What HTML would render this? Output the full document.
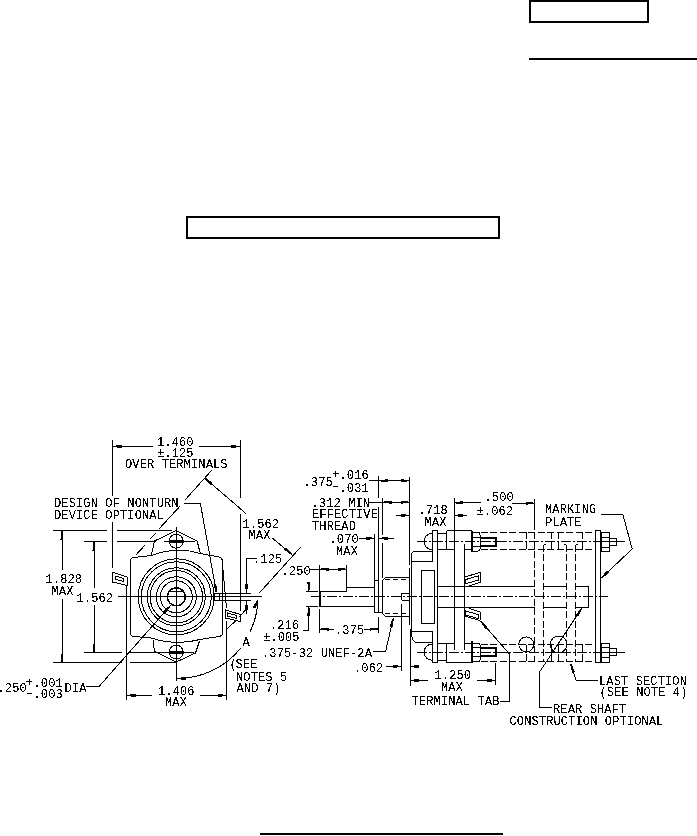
<!DOCTYPE html>
<html><head><meta charset="utf-8"><style>
html,body{margin:0;padding:0;background:#fff;}
body{width:697px;height:836px;position:relative;overflow:hidden;}
svg{position:absolute;left:0;top:0;}
text{font-family:"Liberation Mono",monospace;fill:#000;letter-spacing:0.13px;}
line,polyline,polygon,path,circle{shape-rendering:crispEdges;}
</style></head><body>
<svg width="697" height="836" viewBox="0 0 697 836" stroke="#000" fill="none">
<rect x="530" y="1" width="118" height="21" stroke-width="2"/>
<rect x="529" y="58" width="168" height="2" fill="#000" stroke="none"/>
<rect x="187" y="217" width="312" height="21" stroke-width="2"/>
<rect x="260" y="833" width="243" height="2" fill="#000" stroke="none"/>
<defs><filter id="thr" x="0" y="0" width="100%" height="100%" filterUnits="userSpaceOnUse"><feComponentTransfer><feFuncA type="discrete" tableValues="0 0 0 0 0 0 0 0 0 1 1 1 1 1 1 1 1 1 1 1"/></feComponentTransfer></filter></defs>
<g stroke="#000" fill="none">
<line x1="112.5" y1="440" x2="112.5" y2="496" stroke-width="1"/>
<line x1="112.5" y1="522" x2="112.5" y2="567.5" stroke-width="1"/>
<line x1="240.5" y1="440" x2="240.5" y2="498" stroke-width="1"/>
<line x1="240.5" y1="513.5" x2="240.5" y2="611" stroke-width="1"/>
<line x1="112.5" y1="446.5" x2="153" y2="446.5" stroke-width="1"/>
<line x1="199" y1="446.5" x2="240" y2="446.5" stroke-width="1"/>
<polygon points="112.50,445.90 121.50,445.00 121.50,448.00 112.50,447.10" fill="#000" stroke="none"/>
<polygon points="240.00,447.10 231.00,448.00 231.00,445.00 240.00,445.90" fill="#000" stroke="none"/>
<polyline points="184.2,503.5 200.4,503.5 216.4,592.5" fill="none" stroke-width="1"/>
<polygon points="215.81,592.60 213.40,583.88 216.35,583.38 216.99,592.40" fill="#000" stroke="none"/>
<line x1="53" y1="530.5" x2="107" y2="530.5" stroke-width="1"/>
<line x1="117" y1="530.5" x2="171.5" y2="530.5" stroke-width="1"/>
<line x1="53" y1="662.5" x2="122" y2="662.5" stroke-width="1"/>
<line x1="129.7" y1="662.5" x2="176.8" y2="662.5" stroke-width="1"/>
<line x1="62.5" y1="530.5" x2="62.5" y2="569.5" stroke-width="1"/>
<line x1="62.5" y1="599" x2="62.5" y2="662.5" stroke-width="1"/>
<polygon points="62.60,530.50 63.50,539.50 60.50,539.50 61.40,530.50" fill="#000" stroke="none"/>
<polygon points="61.40,662.50 60.50,653.50 63.50,653.50 62.60,662.50" fill="#000" stroke="none"/>
<line x1="84" y1="541.5" x2="107" y2="541.5" stroke-width="1"/>
<line x1="117" y1="541.5" x2="155.8" y2="541.5" stroke-width="1"/>
<line x1="164.2" y1="541.5" x2="194.6" y2="541.5" stroke-width="1"/>
<line x1="84" y1="652.5" x2="122" y2="652.5" stroke-width="1"/>
<line x1="129.7" y1="652.5" x2="194.3" y2="652.5" stroke-width="1"/>
<line x1="94.5" y1="541.5" x2="94.5" y2="587.5" stroke-width="1"/>
<line x1="94.5" y1="605" x2="94.5" y2="652.5" stroke-width="1"/>
<polygon points="94.60,541.50 95.50,550.50 92.50,550.50 93.40,541.50" fill="#000" stroke="none"/>
<polygon points="93.40,652.50 92.50,643.50 95.50,643.50 94.60,652.50" fill="#000" stroke="none"/>
<line x1="117.5" y1="596.5" x2="262" y2="596.5" stroke-width="1"/>
<line x1="176.5" y1="527" x2="176.5" y2="681" stroke-width="1"/>
<polyline points="151.3,555.5 154.5,541 176.2,530.6 197.1,541 200.3,553.5" fill="none" stroke-width="1"/>
<circle cx="176.2" cy="541.2" r="7" fill="none" stroke-width="1"/>
<line x1="169" y1="541.5" x2="183.5" y2="541.5" stroke-width="3"/>
<polyline points="153,640 154.5,651.3 176.2,662 195.5,653 199.5,641" fill="none" stroke-width="1"/>
<circle cx="176.2" cy="652.1" r="7" fill="none" stroke-width="1"/>
<line x1="169" y1="652.5" x2="183.5" y2="652.5" stroke-width="3"/>
<path d="M130.5,633 L130.5,561 Q130.5,558 134,557.5 L151.3,555.5 Q176.2,546 200.3,553.5 L219,557 Q222.5,558 222.5,562 L222.5,633 Q222.5,636 219,636.5 L200,639.5 Q176.2,646 151,638 L134,636.5 Q130.5,636 130.5,633 Z" fill="none" stroke-width="1"/>
<circle cx="176.3" cy="596.8" r="38" fill="none" stroke-width="1"/>
<circle cx="176.3" cy="596.8" r="35" fill="none" stroke-width="1"/>
<circle cx="176.3" cy="596.8" r="29" fill="none" stroke-width="1"/>
<circle cx="176.3" cy="596.8" r="26.2" fill="none" stroke-width="1"/>
<circle cx="176.3" cy="596.8" r="20" fill="none" stroke-width="1"/>
<circle cx="176.3" cy="596.8" r="16" fill="none" stroke-width="1"/>
<circle cx="176.3" cy="596.8" r="9" fill="none" stroke-width="1.6"/>
<line x1="169.5" y1="591.5" x2="183.5" y2="591.5" stroke-width="1"/>
<line x1="170.5" y1="605.5" x2="118" y2="665" stroke-width="1"/>
<polygon points="170.95,605.90 165.67,613.24 163.42,611.26 170.05,605.10" fill="#000" stroke="none"/>
<polyline points="118,665 99,686.5 85.6,686.5" fill="none" stroke-width="1"/>
<line x1="27" y1="693.5" x2="32" y2="693.5" stroke-width="1"/>
<line x1="126.5" y1="585" x2="126.5" y2="700" stroke-width="1"/>
<line x1="226.5" y1="621" x2="226.5" y2="700" stroke-width="1"/>
<line x1="126.5" y1="695.5" x2="152" y2="695.5" stroke-width="1"/>
<line x1="199.5" y1="695.5" x2="226.5" y2="695.5" stroke-width="1"/>
<polygon points="126.50,694.90 135.50,694.00 135.50,697.00 126.50,696.10" fill="#000" stroke="none"/>
<polygon points="226.50,696.10 217.50,697.00 217.50,694.00 226.50,694.90" fill="#000" stroke="none"/>
<polygon points="112.5,572.2 127.5,577.2 127.5,585.5 112.5,582" fill="none" stroke-width="1"/>
<polygon points="115.5,576.2 123.5,578.3 123.5,581.5 115.5,579.4" fill="none" stroke-width="1"/>
<polygon points="225.5,610 240.5,614.5 240.5,621.5 225.5,618" fill="none" stroke-width="1"/>
<polygon points="227.5,613 236.5,615.5 236.5,618.5 227.5,616" fill="none" stroke-width="1"/>
<polygon points="213.5,593.5 219.5,593.5 219.5,600.5 213.5,600.5" fill="none" stroke-width="1"/>
<line x1="219.2" y1="593.5" x2="250.6" y2="593.5" stroke-width="1"/>
<line x1="219.2" y1="600.5" x2="250.6" y2="600.5" stroke-width="1"/>
<line x1="223" y1="570" x2="226.5" y2="608" stroke-width="1"/>
<line x1="211.6" y1="470.4" x2="184.9" y2="500.1" stroke-width="1"/>
<line x1="179.7" y1="506.5" x2="159" y2="528.9" stroke-width="1"/>
<line x1="155.8" y1="533" x2="150" y2="538.8" stroke-width="1"/>
<line x1="144.9" y1="545.3" x2="135.8" y2="555" stroke-width="1"/>
<line x1="300.7" y1="547.1" x2="259.4" y2="592.9" stroke-width="1"/>
<line x1="245.8" y1="609.7" x2="238.7" y2="617.5" stroke-width="1"/>
<line x1="236.8" y1="620" x2="225.8" y2="629.7" stroke-width="1"/>
<line x1="204.5" y1="477.8" x2="246" y2="513.6" stroke-width="1"/>
<polygon points="204.89,477.35 212.29,482.54 210.33,484.81 204.11,478.25" fill="#000" stroke="none"/>
<line x1="271.8" y1="537.7" x2="292" y2="554.5" stroke-width="1"/>
<polygon points="291.61,554.96 284.14,549.86 286.07,547.56 292.39,554.04" fill="#000" stroke="none"/>
<polyline points="257.4,558.5 246.5,558.5 246.5,593.2" fill="none" stroke-width="1"/>
<polygon points="245.90,593.20 245.00,584.20 248.00,584.20 247.10,593.20" fill="#000" stroke="none"/>
<polygon points="247.10,600.60 248.00,609.60 245.00,609.60 245.90,600.60" fill="#000" stroke="none"/>
<line x1="246.5" y1="600.6" x2="246.5" y2="614.3" stroke-width="1"/>
<path d="M258,600 A81.7,81.7 0 0 1 250,632" fill="none" stroke-width="1"/>
<path d="M240.5,648.5 A81.7,81.7 0 0 1 177,678.5" fill="none" stroke-width="1"/>
<polygon points="258.54,600.27 255.32,608.72 252.63,607.38 257.46,599.73" fill="#000" stroke="none"/>
<polygon points="177.00,677.90 186.00,677.00 186.00,680.00 177.00,679.10" fill="#000" stroke="none"/>
<line x1="369" y1="480.5" x2="409.5" y2="480.5" stroke-width="1"/>
<polygon points="378.70,480.10 387.70,479.20 387.70,482.20 378.70,481.30" fill="#000" stroke="none"/>
<polygon points="409.50,481.30 400.50,482.20 400.50,479.20 409.50,480.10" fill="#000" stroke="none"/>
<line x1="378.5" y1="475.5" x2="378.5" y2="498.4" stroke-width="1"/>
<line x1="333" y1="486.5" x2="338" y2="486.5" stroke-width="1"/>
<line x1="369" y1="502.5" x2="409.5" y2="502.5" stroke-width="1"/>
<polygon points="382.50,501.70 391.50,500.80 391.50,503.80 382.50,502.90" fill="#000" stroke="none"/>
<polygon points="409.50,502.90 400.50,503.80 400.50,500.80 409.50,501.70" fill="#000" stroke="none"/>
<line x1="382.5" y1="498" x2="382.5" y2="534.6" stroke-width="1"/>
<line x1="382.5" y1="542.8" x2="382.5" y2="577.5" stroke-width="1"/>
<line x1="396" y1="515.5" x2="409.5" y2="515.5" stroke-width="1"/>
<polygon points="409.50,516.10 400.50,517.00 400.50,514.00 409.50,514.90" fill="#000" stroke="none"/>
<line x1="454" y1="515.5" x2="467" y2="515.5" stroke-width="1"/>
<polygon points="454.00,514.90 463.00,514.00 463.00,517.00 454.00,516.10" fill="#000" stroke="none"/>
<line x1="409.5" y1="477" x2="409.5" y2="565" stroke-width="1"/>
<line x1="454" y1="502.5" x2="481" y2="502.5" stroke-width="1"/>
<polygon points="454.00,502.10 463.00,501.20 463.00,504.20 454.00,503.30" fill="#000" stroke="none"/>
<line x1="512" y1="503.5" x2="534.5" y2="503.5" stroke-width="1"/>
<polygon points="534.50,503.90 525.50,504.80 525.50,501.80 534.50,502.70" fill="#000" stroke="none"/>
<line x1="534.5" y1="498.7" x2="534.5" y2="530" stroke-width="1"/>
<line x1="359" y1="538.5" x2="374.6" y2="538.5" stroke-width="1"/>
<polygon points="374.60,539.00 365.60,539.90 365.60,536.90 374.60,537.80" fill="#000" stroke="none"/>
<line x1="378.6" y1="538.5" x2="393.5" y2="538.5" stroke-width="1"/>
<polygon points="378.60,537.80 387.60,536.90 387.60,539.90 378.60,539.00" fill="#000" stroke="none"/>
<line x1="374.5" y1="534.3" x2="374.5" y2="612.8" stroke-width="1"/>
<line x1="378.5" y1="507" x2="378.5" y2="612.8" stroke-width="1"/>
<line x1="374.6" y1="612.5" x2="381.7" y2="612.5" stroke-width="1"/>
<line x1="309.8" y1="569.5" x2="346.8" y2="569.5" stroke-width="1"/>
<polygon points="319.50,568.70 328.50,567.80 328.50,570.80 319.50,569.90" fill="#000" stroke="none"/>
<polygon points="346.80,569.90 337.80,570.80 337.80,567.80 346.80,568.70" fill="#000" stroke="none"/>
<line x1="319.5" y1="565" x2="319.5" y2="591" stroke-width="1"/>
<line x1="346.5" y1="565" x2="346.5" y2="587" stroke-width="1"/>
<line x1="320" y1="591.3" x2="320" y2="606.5" stroke-width="2.5"/>
<polyline points="319.6,591.5 346.5,591.5 346.5,587.5 374.4,587.5" fill="none" stroke-width="1"/>
<line x1="319.6" y1="606.5" x2="374.4" y2="606.5" stroke-width="1"/>
<line x1="310.7" y1="596.5" x2="608" y2="596.5" stroke-width="1" stroke-dasharray="10 2 2 2"/>
<line x1="305.5" y1="591.5" x2="317.5" y2="591.5" stroke-width="1"/>
<line x1="305.5" y1="606.5" x2="317.5" y2="606.5" stroke-width="1"/>
<line x1="308.5" y1="582" x2="308.5" y2="591.3" stroke-width="1"/>
<polygon points="308.20,591.30 307.30,582.30 310.30,582.30 309.40,591.30" fill="#000" stroke="none"/>
<polyline points="308.5,606.5 308.5,630.5 303.3,630.5" fill="none" stroke-width="1"/>
<polygon points="309.40,606.50 310.30,615.50 307.30,615.50 308.20,606.50" fill="#000" stroke="none"/>
<line x1="319.5" y1="608.5" x2="319.5" y2="633" stroke-width="1"/>
<line x1="378.5" y1="616.7" x2="378.5" y2="633" stroke-width="1"/>
<line x1="319.6" y1="629.5" x2="334" y2="629.5" stroke-width="1"/>
<line x1="364" y1="629.5" x2="378.5" y2="629.5" stroke-width="1"/>
<polygon points="319.60,628.60 328.60,627.70 328.60,630.70 319.60,629.80" fill="#000" stroke="none"/>
<polygon points="378.50,629.80 369.50,630.70 369.50,627.70 378.50,628.60" fill="#000" stroke="none"/>
<polyline points="372.6,651.5 385.6,651.5 393.3,618" fill="none" stroke-width="1"/>
<polygon points="393.88,618.13 392.75,627.11 389.83,626.44 392.72,617.87" fill="#000" stroke="none"/>
<line x1="385.6" y1="666.5" x2="401.5" y2="666.5" stroke-width="1"/>
<polygon points="401.50,667.10 392.50,668.00 392.50,665.00 401.50,665.90" fill="#000" stroke="none"/>
<line x1="410" y1="666.5" x2="418" y2="666.5" stroke-width="1"/>
<polygon points="410.00,665.90 419.00,665.00 419.00,668.00 410.00,667.10" fill="#000" stroke="none"/>
<line x1="401.5" y1="604" x2="401.5" y2="671" stroke-width="1"/>
<line x1="374.4" y1="580.5" x2="378.6" y2="580.5" stroke-width="1"/>
<polyline points="382.5,613.7 382.5,580.3 385.5,577.5 409.6,577.5" fill="none" stroke-width="1"/>
<polyline points="382.6,613.7 385.5,616.5 409.6,616.5" fill="none" stroke-width="1"/>
<line x1="385" y1="579.5" x2="409.6" y2="579.5" stroke-width="1" stroke-dasharray="5 3"/>
<line x1="385" y1="613.5" x2="409.6" y2="613.5" stroke-width="1" stroke-dasharray="5 3"/>
<line x1="382.5" y1="580.3" x2="382.5" y2="613.7" stroke-width="1"/>
<polyline points="401.5,600 401.5,593.5 410,593.5" fill="none" stroke-width="1"/>
<line x1="401.5" y1="600.5" x2="410" y2="600.5" stroke-width="1"/>
<line x1="409.5" y1="568" x2="409.5" y2="625.3" stroke-width="1"/>
<line x1="410.5" y1="629" x2="410.5" y2="686" stroke-width="1"/>
<path d="M411.5,561.5 L411.5,555 Q411.5,551.5 415.3,551.5 L432.5,551.5 L432.5,561.5 L411.5,561.5" fill="none" stroke-width="1"/>
<line x1="411.5" y1="561.5" x2="411.5" y2="631.5" stroke-width="1"/>
<path d="M411.5,631.5 Q411.5,642.5 417,642.5 L432.5,642.5" fill="none" stroke-width="1"/>
<line x1="411.5" y1="631.5" x2="432.5" y2="631.5" stroke-width="1"/>
<polyline points="432.5,560.8 432.5,530.5 437.5,530.5 437.5,662.5 432.5,662.5 432.5,631" fill="none" stroke-width="1"/>
<polygon points="421.5,570.5 434.5,570.5 434.5,623.5 421.5,623.5" fill="none" stroke-width="1"/>
<path d="M432,533.5 A8,8 0 0 0 432,549.5" fill="none" stroke-width="1"/>
<line x1="437.2" y1="533.5" x2="446.6" y2="533.5" stroke-width="1"/>
<line x1="437.2" y1="549.5" x2="446.6" y2="549.5" stroke-width="1"/>
<line x1="446.6" y1="530.5" x2="471.8" y2="530.5" stroke-width="1"/>
<line x1="437.2" y1="549.5" x2="454" y2="549.5" stroke-width="1"/>
<line x1="464" y1="549.5" x2="471.8" y2="549.5" stroke-width="1"/>
<line x1="446.5" y1="530.5" x2="446.5" y2="549.5" stroke-width="1"/>
<line x1="472" y1="530.5" x2="472" y2="552.0" stroke-width="2"/>
<path d="M472.5,532.5 L478,532.5 Q480,532.5 480,534.5 L480,549.0 Q480,551.0 478,551.0 L472.5,551.0" fill="none" stroke-width="1"/>
<line x1="472.5" y1="537.5" x2="480" y2="537.5" stroke-width="1"/>
<line x1="472.5" y1="546.5" x2="480" y2="546.5" stroke-width="1"/>
<polyline points="480,538 496,538 496,546 480,546" fill="none" stroke-width="1.5"/>
<line x1="417" y1="541.5" x2="624.6" y2="541.5" stroke-width="1" stroke-dasharray="10 2 2 2"/>
<path d="M432,644.2 A8,8 0 0 0 432,660.2" fill="none" stroke-width="1"/>
<line x1="437.2" y1="643.5" x2="446.6" y2="643.5" stroke-width="1"/>
<line x1="437.2" y1="660.5" x2="446.6" y2="660.5" stroke-width="1"/>
<line x1="446.6" y1="662.5" x2="471.8" y2="662.5" stroke-width="1"/>
<line x1="437.2" y1="643.5" x2="454" y2="643.5" stroke-width="1"/>
<line x1="464" y1="643.5" x2="471.8" y2="643.5" stroke-width="1"/>
<line x1="446.5" y1="643.2" x2="446.5" y2="662.7" stroke-width="1"/>
<line x1="472" y1="641.2" x2="472" y2="662.7" stroke-width="2"/>
<path d="M472.5,643.2 L478,643.2 Q480,643.2 480,645.2 L480,659.7 Q480,661.7 478,661.7 L472.5,661.7" fill="none" stroke-width="1"/>
<line x1="472.5" y1="647.5" x2="480" y2="647.5" stroke-width="1"/>
<line x1="472.5" y1="656.5" x2="480" y2="656.5" stroke-width="1"/>
<polyline points="480,648 496,648 496,656 480,656" fill="none" stroke-width="1.5"/>
<line x1="417" y1="652.5" x2="624.6" y2="652.5" stroke-width="1" stroke-dasharray="10 2 2 2"/>
<line x1="454.5" y1="498.4" x2="454.5" y2="649.5" stroke-width="1"/>
<line x1="464.5" y1="544.4" x2="464.5" y2="649.5" stroke-width="1"/>
<line x1="437.7" y1="586.5" x2="534.7" y2="586.5" stroke-width="1"/>
<line x1="437.7" y1="607.5" x2="534.7" y2="607.5" stroke-width="1"/>
<line x1="543.7" y1="586.5" x2="566.4" y2="586.5" stroke-width="1"/>
<line x1="543.7" y1="607.5" x2="566.4" y2="607.5" stroke-width="1"/>
<line x1="575.7" y1="586.5" x2="588.8" y2="586.5" stroke-width="1"/>
<line x1="575.7" y1="607.5" x2="588.8" y2="607.5" stroke-width="1"/>
<polyline points="464,577.2 480.5,572.4 480.5,582.2 467.5,586.4" fill="none" stroke-width="1"/>
<polygon points="465.5,579.6 478.5,575.8 478.5,580 465.5,583.8" fill="none" stroke-width="1"/>
<polyline points="467.5,607.6 480.5,612.3 480.5,619.8 479,620.2 464,616" fill="none" stroke-width="1"/>
<polygon points="465.5,611 478.5,614.6 478.5,618.6 465.5,615" fill="none" stroke-width="1"/>
<line x1="480.6" y1="532.5" x2="595.3" y2="532.5" stroke-width="1" stroke-dasharray="7 2.5"/>
<line x1="480.6" y1="549.5" x2="595.3" y2="549.5" stroke-width="1" stroke-dasharray="7 2.5"/>
<line x1="480.6" y1="644.5" x2="595.3" y2="644.5" stroke-width="1" stroke-dasharray="7 2.5"/>
<line x1="480.6" y1="661.5" x2="595.3" y2="661.5" stroke-width="1" stroke-dasharray="7 2.5"/>
<line x1="526.5" y1="532.1" x2="526.5" y2="549.3" stroke-width="1" stroke-dasharray="7 2.5"/>
<line x1="526.5" y1="644.8" x2="526.5" y2="661.2" stroke-width="1" stroke-dasharray="7 2.5"/>
<line x1="551.5" y1="532.1" x2="551.5" y2="549.3" stroke-width="1" stroke-dasharray="7 2.5"/>
<line x1="551.5" y1="644.8" x2="551.5" y2="661.2" stroke-width="1" stroke-dasharray="7 2.5"/>
<line x1="558.5" y1="532.1" x2="558.5" y2="549.3" stroke-width="1" stroke-dasharray="7 2.5"/>
<line x1="558.5" y1="644.8" x2="558.5" y2="661.2" stroke-width="1" stroke-dasharray="7 2.5"/>
<line x1="582.5" y1="532.1" x2="582.5" y2="549.3" stroke-width="1" stroke-dasharray="7 2.5"/>
<line x1="582.5" y1="644.8" x2="582.5" y2="661.2" stroke-width="1" stroke-dasharray="7 2.5"/>
<line x1="543.5" y1="544.6" x2="543.5" y2="662" stroke-width="1" stroke-dasharray="7 2.5"/>
<line x1="566.5" y1="544.6" x2="566.5" y2="662" stroke-width="1" stroke-dasharray="7 2.5"/>
<line x1="575.5" y1="544.6" x2="575.5" y2="662" stroke-width="1" stroke-dasharray="7 2.5"/>
<line x1="534.5" y1="532.1" x2="534.5" y2="662" stroke-width="1" stroke-dasharray="7 2.5"/>
<line x1="543.7" y1="544.5" x2="546" y2="544.5" stroke-width="1"/>
<line x1="566.4" y1="544.5" x2="564" y2="544.5" stroke-width="1"/>
<line x1="575.7" y1="544.5" x2="578" y2="544.5" stroke-width="1"/>
<polyline points="576,586.5 588.5,586.5 588.5,607.5 576,607.5" fill="none" stroke-width="1"/>
<circle cx="526.3" cy="644.4" r="7.5" fill="none" stroke-width="1"/>
<circle cx="558.6" cy="644.4" r="8.4" fill="none" stroke-width="1"/>
<polygon points="595.5,530.5 600.5,530.5 600.5,662.5 595.5,662.5" fill="none" stroke-width="1"/>
<polyline points="600.5,532.5 609.5,532.5 609.5,551.5 600.5,551.5" fill="none" stroke-width="1"/>
<line x1="601.5" y1="532.5" x2="601.5" y2="551.5" stroke-width="1"/>
<line x1="600.5" y1="537.5" x2="609.4" y2="537.5" stroke-width="1"/>
<line x1="600.5" y1="547.5" x2="609.4" y2="547.5" stroke-width="1"/>
<polyline points="609.4,538.5 616.5,538.5 616.5,545.5 609.4,545.5" fill="none" stroke-width="1"/>
<line x1="616.5" y1="538.0" x2="616.5" y2="545.2" stroke-width="1"/>
<line x1="600.5" y1="541.5" x2="624.7" y2="541.5" stroke-width="1"/>
<polyline points="600.5,643.5 609.5,643.5 609.5,662.5 600.5,662.5" fill="none" stroke-width="1"/>
<line x1="601.5" y1="643.2" x2="601.5" y2="662.2" stroke-width="1"/>
<line x1="600.5" y1="647.5" x2="609.4" y2="647.5" stroke-width="1"/>
<line x1="600.5" y1="657.5" x2="609.4" y2="657.5" stroke-width="1"/>
<polyline points="609.4,648.5 616.5,648.5 616.5,655.5 609.4,655.5" fill="none" stroke-width="1"/>
<line x1="616.5" y1="648.7" x2="616.5" y2="655.9000000000001" stroke-width="1"/>
<line x1="600.5" y1="652.5" x2="624.7" y2="652.5" stroke-width="1"/>
<polyline points="601.4,514.5 622.9,514.5 632.2,549 601.4,578" fill="none" stroke-width="1"/>
<polygon points="600.99,577.56 606.92,570.74 608.98,572.92 601.81,578.44" fill="#000" stroke="none"/>
<line x1="410.4" y1="680.5" x2="427.5" y2="680.5" stroke-width="1"/>
<polygon points="410.40,679.90 419.40,679.00 419.40,682.00 410.40,681.10" fill="#000" stroke="none"/>
<line x1="476.5" y1="680.5" x2="495.6" y2="680.5" stroke-width="1"/>
<polygon points="495.60,681.10 486.60,682.00 486.60,679.00 495.60,679.90" fill="#000" stroke="none"/>
<line x1="495.5" y1="663" x2="495.5" y2="685" stroke-width="1"/>
<polyline points="499.8,701.5 509.5,701.5 509.5,654 480.5,621" fill="none" stroke-width="1"/>
<polygon points="480.95,620.60 487.57,626.77 485.31,628.75 480.05,621.40" fill="#000" stroke="none"/>
<polyline points="597.5,680.5 576.3,680.5 570.7,664" fill="none" stroke-width="1"/>
<polygon points="571.27,663.80 575.09,672.00 572.26,672.99 570.13,664.20" fill="#000" stroke="none"/>
<polyline points="552.3,707.5 539.5,707.5 539.5,672 582,608" fill="none" stroke-width="1"/>
<polygon points="582.50,608.33 578.28,616.33 575.78,614.67 581.50,607.67" fill="#000" stroke="none"/>
</g>
<g filter="url(#thr)">
<text x="157" y="445.5" font-size="12" stroke="none">1.460</text>
<text x="157" y="456.5" font-size="12" stroke="none">±.125</text>
<text x="125" y="467.5" font-size="12" stroke="none">OVER TERMINALS</text>
<text x="54" y="507.0" font-size="12" stroke="none">DESIGN OF NONTURN</text>
<text x="54" y="519.0" font-size="12" stroke="none">DEVICE OPTIONAL</text>
<text x="45.5" y="582.5" font-size="12" stroke="none">1.828</text>
<text x="51.5" y="595.0" font-size="12" stroke="none">MAX</text>
<text x="76.5" y="601.5" font-size="12" stroke="none">1.562</text>
<text x="-2.5" y="692.0" font-size="12" stroke="none">.250</text>
<text x="25.7" y="685.5" font-size="12" stroke="none">+</text>
<text x="33.5" y="686.5" font-size="12" stroke="none">.001</text>
<text x="33.5" y="698.0" font-size="12" stroke="none">.003</text>
<text x="64.5" y="692.0" font-size="12" stroke="none">DIA</text>
<text x="158" y="694.5" font-size="12" stroke="none">1.406</text>
<text x="165" y="706.0" font-size="12" stroke="none">MAX</text>
<text x="242.5" y="527.5" font-size="12" stroke="none">1.562</text>
<text x="248.5" y="539.0" font-size="12" stroke="none">MAX</text>
<text x="253" y="563.0" font-size="12" stroke="none">.125</text>
<text x="242.5" y="646.1" font-size="12" stroke="none">A</text>
<text x="229.5" y="668.0" font-size="12" stroke="none">(</text>
<text x="235.5" y="668.0" font-size="12" stroke="none">SEE</text>
<text x="236" y="680.5" font-size="12" stroke="none">NOTES 5</text>
<text x="236.5" y="692.1" font-size="12" stroke="none">AND 7)</text>
<text x="303.5" y="485.5" font-size="12" stroke="none">.375</text>
<text x="332" y="478.0" font-size="12" stroke="none">+</text>
<text x="339.5" y="479.0" font-size="12" stroke="none">.016</text>
<text x="339.5" y="491.5" font-size="12" stroke="none">.031</text>
<text x="311.5" y="507.0" font-size="12" stroke="none">.312 MIN</text>
<text x="312" y="517.5" font-size="12" stroke="none">EFFECTIVE</text>
<text x="312" y="530.0" font-size="12" stroke="none">THREAD</text>
<text x="418.5" y="513.5" font-size="12" stroke="none">.718</text>
<text x="424.5" y="525.5" font-size="12" stroke="none">MAX</text>
<text x="484.5" y="501.0" font-size="12" stroke="none">.500</text>
<text x="476.5" y="514.5" font-size="12" stroke="none">±.062</text>
<text x="329.5" y="543.0" font-size="12" stroke="none">.070</text>
<text x="336" y="555.0" font-size="12" stroke="none">MAX</text>
<text x="281.5" y="574.5" font-size="12" stroke="none">.250</text>
<text x="270" y="628.5" font-size="12" stroke="none">.216</text>
<text x="263" y="641.0" font-size="12" stroke="none">±.005</text>
<text x="335" y="633.5" font-size="12" stroke="none">.375</text>
<text x="262" y="656.5" font-size="12" stroke="none">.375-32 UNEF-2A</text>
<text x="354" y="671.5" font-size="12" stroke="none">.062</text>
<text x="545" y="513.0" font-size="12" stroke="none">MARKING</text>
<text x="545" y="525.5" font-size="12" stroke="none">PLATE</text>
<text x="434.5" y="678.5" font-size="12" stroke="none">1.250</text>
<text x="441" y="691.0" font-size="12" stroke="none">MAX</text>
<text x="411.5" y="705.0" font-size="12" stroke="none">TERMINAL TAB</text>
<text x="599" y="684.5" font-size="12" stroke="none">LAST SECTION</text>
<text x="599.5" y="696.0" font-size="12" stroke="none">(SEE NOTE 4)</text>
<text x="553" y="712.5" font-size="12" stroke="none">REAR SHAFT</text>
<text x="509.5" y="724.5" font-size="12" stroke="none">CONSTRUCTION OPTIONAL</text>
</g>
</svg>
</body></html>
